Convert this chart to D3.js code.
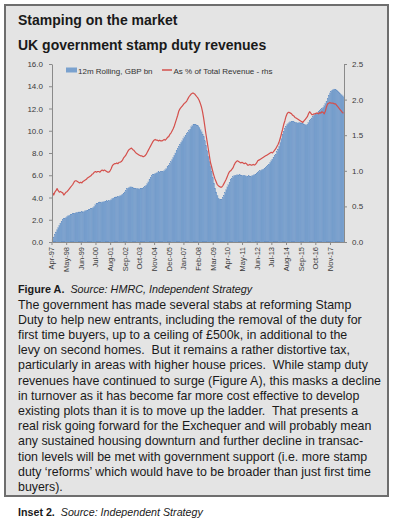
<!DOCTYPE html>
<html>
<head>
<meta charset="utf-8">
<script src="https://cdn.jsdelivr.net/npm/d3@7"></script>
<style>
  body { margin: 0; background: #fff; }
  svg { display: block; font-family: "Liberation Sans", Arial, sans-serif; }
</style>
</head>
<body>
<script>
// ---- data ----
// 12m rolling stamp duty receipts, GBP bn, monthly Apr-97 .. Oct-18
const revenueBn = [
  0.2, 0.45, 0.7, 0.9, 1.1, 1.3, 1.5, 1.7, 1.85,                          // 1997 Apr-Dec
  2.0, 2.1, 2.15, 2.2, 2.3, 2.35, 2.4, 2.45, 2.5, 2.55, 2.6, 2.6,         // 1998
  2.65, 2.65, 2.7, 2.7, 2.7, 2.75, 2.7, 2.75, 2.8, 2.85, 2.85, 2.9,       // 1999
  2.95, 3.0, 3.05, 3.1, 3.2, 3.35, 3.45, 3.5, 3.55, 3.6, 3.55, 3.6,       // 2000
  3.6, 3.65, 3.65, 3.7, 3.65, 3.7, 3.75, 3.8, 3.9, 3.95, 4.0, 4.05,       // 2001
  4.05, 4.1, 4.1, 4.15, 4.2, 4.3, 4.4, 4.5, 4.65, 4.8, 4.85, 4.9,         // 2002
  4.95, 4.95, 4.9, 4.85, 4.85, 4.8, 4.8, 4.8, 4.75, 4.8, 4.8, 4.85,       // 2003
  4.9, 5.0, 5.1, 5.25, 5.4, 5.6, 5.8, 5.95, 6.05, 6.1, 6.15, 6.2,         // 2004
  6.25, 6.3, 6.25, 6.3, 6.3, 6.35, 6.4, 6.5, 6.6, 6.75, 6.9, 7.05,        // 2005
  7.2, 7.4, 7.6, 7.8, 8.0, 8.2, 8.4, 8.6, 8.8, 8.95, 9.1, 9.3,            // 2006
  9.45, 9.6, 9.75, 9.85, 10.0, 10.15, 10.35, 10.45, 10.55, 10.6, 10.55, 10.5, // 2007
  10.45, 10.3, 10.1, 9.9, 9.7, 9.5, 9.1, 8.7, 8.2, 7.7, 7.25, 6.8,        // 2008
  6.3, 5.8, 5.3, 4.85, 4.5, 4.2, 3.95, 3.85, 3.8, 3.85, 4.0, 4.2,         // 2009
  4.45, 4.7, 4.95, 5.15, 5.35, 5.6, 5.75, 5.85, 5.95, 6.0, 6.0, 6.05,     // 2010
  6.0, 6.05, 6.0, 5.95, 6.0, 6.0, 5.95, 5.9, 5.9, 5.95, 5.9, 5.9,         // 2011
  5.95, 6.0, 6.05, 6.1, 6.2, 6.25, 6.3, 6.4, 6.45, 6.5, 6.55, 6.6,        // 2012
  6.7, 6.8, 6.9, 7.0, 7.15, 7.3, 7.45, 7.6, 7.75, 7.9, 8.1, 8.35,         // 2013
  8.6, 8.95, 9.3, 9.65, 9.95, 10.2, 10.4, 10.55, 10.65, 10.75, 10.8, 10.85, // 2014
  10.8, 10.8, 10.75, 10.75, 10.7, 10.7, 10.75, 10.7, 10.7, 10.65, 10.6, 10.55, // 2015
  10.5, 10.6, 10.75, 10.9, 11.0, 11.15, 11.3, 11.4, 11.5, 11.55, 11.6, 11.7, // 2016
  11.8, 11.9, 12.0, 12.1, 12.25, 12.45, 12.65, 12.9, 13.2, 13.4, 13.55, 13.65, // 2017
  13.7, 13.75, 13.7, 13.65, 13.55, 13.45, 13.35, 13.25, 13.15, 13.05      // 2018 Jan-Oct
];

// stamp duty as % of total revenue (rhs)
const pctRevenue = [
  0.69, 0.66, 0.70, 0.72, 0.75, 0.72, 0.70, 0.71, 0.70,                   // 1997 Apr-Dec
  0.69, 0.66, 0.68, 0.70, 0.71, 0.73, 0.75, 0.77, 0.79, 0.81, 0.84, 0.86, // 1998
  0.86, 0.85, 0.84, 0.83, 0.84, 0.83, 0.85, 0.86, 0.87, 0.88, 0.90, 0.91, // 1999
  0.92, 0.93, 0.95, 0.96, 0.98, 0.99, 0.98, 0.99, 0.99, 0.98, 1.00, 1.01, // 2000
  1.00, 1.01, 1.00, 0.99, 0.98, 0.98, 1.00, 1.03, 1.07, 1.09, 1.10, 1.10, // 2001
  1.11, 1.10, 1.12, 1.12, 1.13, 1.15, 1.18, 1.20, 1.22, 1.25, 1.28, 1.30, // 2002
  1.31, 1.32, 1.30, 1.29, 1.27, 1.25, 1.24, 1.23, 1.22, 1.21, 1.21, 1.20, // 2003
  1.20, 1.21, 1.23, 1.26, 1.29, 1.32, 1.35, 1.38, 1.41, 1.43, 1.44, 1.43, // 2004
  1.43, 1.42, 1.43, 1.42, 1.42, 1.43, 1.44, 1.43, 1.45, 1.47, 1.48, 1.51, // 2005
  1.53, 1.56, 1.59, 1.63, 1.68, 1.73, 1.78, 1.84, 1.87, 1.89, 1.91, 1.93, // 2006
  1.95, 1.96, 1.98, 2.01, 2.04, 2.06, 2.08, 2.09, 2.09, 2.08, 2.06, 2.04, // 2007
  2.02, 1.99, 1.95, 1.90, 1.83, 1.74, 1.63, 1.52, 1.42, 1.32, 1.22, 1.12, // 2008
  1.06, 1.00, 0.94, 0.89, 0.85, 0.81, 0.79, 0.78, 0.77, 0.77, 0.79, 0.82, // 2009
  0.85, 0.88, 0.92, 0.96, 0.99, 1.00, 1.02, 1.04, 1.08, 1.11, 1.13, 1.14, // 2010
  1.13, 1.12, 1.11, 1.12, 1.11, 1.10, 1.11, 1.10, 1.08, 1.08, 1.09, 1.08, // 2011
  1.08, 1.09, 1.08, 1.09, 1.11, 1.14, 1.15, 1.16, 1.17, 1.18, 1.19, 1.20, // 2012
  1.21, 1.22, 1.23, 1.24, 1.25, 1.26, 1.25, 1.27, 1.29, 1.31, 1.34, 1.37, // 2013
  1.41, 1.46, 1.52, 1.58, 1.65, 1.70, 1.76, 1.80, 1.82, 1.82, 1.81, 1.80, // 2014
  1.78, 1.77, 1.75, 1.74, 1.73, 1.72, 1.71, 1.70, 1.69, 1.68, 1.70, 1.72, // 2015
  1.74, 1.76, 1.80, 1.83, 1.81, 1.79, 1.79, 1.80, 1.80, 1.81, 1.81, 1.80, // 2016
  1.82, 1.81, 1.83, 1.82, 1.80, 1.84, 1.90, 1.94, 1.95, 1.96, 1.95, 1.95, // 2017
  1.95, 1.94, 1.94, 1.92, 1.90, 1.88, 1.86, 1.84, 1.82, 1.81              // 2018 Jan-Oct
];

const tickLabels = ["Apr-97", "May-98", "Jun-99", "Jul-00", "Aug-01", "Sep-02", "Oct-03",
  "Nov-04", "Dec-05", "Jan-07", "Feb-08", "Mar-09", "Apr-10", "May-11", "Jun-12",
  "Jul-13", "Aug-14", "Sep-15", "Oct-16", "Nov-17"];
const leftTicks = [0, 2, 4, 6, 8, 10, 12, 14, 16];
const rightTicks = [0, 0.5, 1, 1.5, 2, 2.5];

const legendLabels = ["12m Rolling, GBP bn", "As % of Total Revenue - rhs"];

const bodyLines = [
  "The government has made several stabs at reforming Stamp",
  "Duty to help new entrants, including the removal of the duty for",
  "first time buyers, up to a ceiling of £500k, in additional to the",
  "levy on second homes.  But it remains a rather distortive tax,",
  "particularly in areas with higher house prices.  While stamp duty",
  "revenues have continued to surge (Figure A), this masks a decline",
  "in turnover as it has become far more cost effective to develop",
  "existing plots than it is to move up the ladder.  That presents a",
  "real risk going forward for the Exchequer and will probably mean",
  "any sustained housing downturn and further decline in transac-",
  "tion levels will be met with government support (i.e. more stamp",
  "duty \u2018reforms\u2019 which would have to be broader than just first time",
  "buyers)."
];

// month categories Apr-97 .. Oct-18
const fmt = d3.timeFormat("%b-%y");
const months = d3.timeMonth.range(new Date(1997, 3, 1), new Date(2018, 10, 1)).map(fmt);

// ---- layout ----
const W = 394, H = 524;
const plot = { left: 52, right: 344, top: 64, bottom: 242 };
const barColor = "#7aa1ce";
const lineColor = "#d4504c";
const axisColor = "#8a8a8a";
const tickText = "#3a3a3a";

const svg = d3.select("body").append("svg")
  .attr("width", W)
  .attr("height", H);

// panel
svg.append("rect")
  .attr("x", 5).attr("y", 5)
  .attr("width", 383).attr("height", 491)
  .attr("fill", "#e4e4e4")
  .attr("stroke", "#6e6e6e")
  .attr("stroke-width", 2);

svg.append("text")
  .attr("x", 18).attr("y", 25)
  .attr("font-size", 14).attr("font-weight", "bold").attr("fill", "#1a1a1a")
  .text("Stamping on the market");

svg.append("text")
  .attr("x", 18).attr("y", 50)
  .attr("font-size", 14).attr("font-weight", "bold").attr("fill", "#1a1a1a")
  .text("UK government stamp duty revenues");

// scales
const x = d3.scaleBand().domain(months).range([plot.left, plot.right]).padding(0);
const yL = d3.scaleLinear().domain([0, 16]).range([plot.bottom, plot.top]);
const yR = d3.scaleLinear().domain([0, 2.5]).range([plot.bottom, plot.top]);

// bars
svg.append("g")
  .selectAll("rect")
  .data(revenueBn)
  .join("rect")
  .attr("x", (d, i) => x(months[i]))
  .attr("y", d => yL(d))
  .attr("width", x.bandwidth() + 0.3)
  .attr("height", d => yL(0) - yL(d))
  .attr("fill", barColor)
  .attr("stroke", "#6690c4")
  .attr("stroke-width", 0.15);

// line on rhs
const line = d3.line()
  .x((d, i) => x(months[i]) + x.bandwidth() / 2)
  .y(d => yR(d));

svg.append("path")
  .datum(pctRevenue)
  .attr("d", line)
  .attr("fill", "none")
  .attr("stroke", lineColor)
  .attr("stroke-width", 1.2)
  .attr("stroke-linejoin", "round");

// axes
function styleAxis(g) {
  g.selectAll(".domain").attr("stroke", axisColor);
  g.selectAll(".tick line").attr("stroke", axisColor);
  g.selectAll("text")
    .attr("fill", tickText)
    .attr("font-size", 8)
    .attr("font-family", "'Liberation Sans', Arial, sans-serif");
}

svg.append("g")
  .attr("transform", `translate(${plot.left},0)`)
  .call(d3.axisLeft(yL).tickValues(leftTicks).tickFormat(d3.format(".1f"))
    .tickSize(3).tickSizeOuter(0).tickPadding(6))
  .call(styleAxis);

svg.append("g")
  .attr("transform", `translate(${plot.right},0)`)
  .call(d3.axisRight(yR).tickValues(rightTicks).tickFormat(d3.format(".1f"))
    .tickSize(3).tickSizeOuter(0).tickPadding(5))
  .call(styleAxis);

const xAxis = svg.append("g")
  .attr("transform", `translate(0,${plot.bottom})`)
  .call(d3.axisBottom(x).tickValues(tickLabels).tickSize(3).tickSizeOuter(0).tickPadding(2))
  .call(styleAxis);

xAxis.selectAll(".tick").attr("transform", d => `translate(${x(d)},0)`);
xAxis.selectAll(".tick text")
  .attr("font-size", 7.5)
  .attr("text-anchor", "end")
  .attr("dy", "0.32em")
  .attr("transform", "translate(0,5) rotate(-90)")
  .attr("x", 0).attr("y", 0);

// legend
const legend = svg.append("g").attr("font-size", 8).attr("fill", "#333");
legend.append("rect")
  .attr("x", 66).attr("y", 67.5).attr("width", 11).attr("height", 5)
  .attr("fill", barColor);
legend.append("text").attr("x", 78).attr("y", 73.5).text(legendLabels[0]);
legend.append("line")
  .attr("x1", 162).attr("x2", 172).attr("y1", 70).attr("y2", 70)
  .attr("stroke", lineColor).attr("stroke-width", 1.5);
legend.append("text").attr("x", 173.5).attr("y", 73.5).text(legendLabels[1]);

// caption
const cap = svg.append("text")
  .attr("x", 18).attr("y", 293)
  .attr("font-size", 10.8).attr("fill", "#1a1a1a")
  .attr("xml:space", "preserve");
cap.append("tspan").attr("font-weight", "bold").text("Figure A.");
cap.append("tspan").attr("font-style", "italic").text("  Source: HMRC, Independent Strategy");

// body text
svg.append("g")
  .attr("font-size", 12.4)
  .attr("fill", "#1a1a1a")
  .selectAll("text")
  .data(bodyLines)
  .join("text")
  .attr("x", 18)
  .attr("y", (d, i) => 308.5 + i * 15.2)
  .style("white-space", "pre")
  .text(d => d);

// inset footer
const inset = svg.append("text")
  .attr("x", 18).attr("y", 516)
  .attr("font-size", 10.7).attr("fill", "#1a1a1a")
  .style("white-space", "pre");
inset.append("tspan").attr("font-weight", "bold").text("Inset 2.");
inset.append("tspan").attr("font-style", "italic").text("  Source: Independent Strategy");
</script>
</body>
</html>
